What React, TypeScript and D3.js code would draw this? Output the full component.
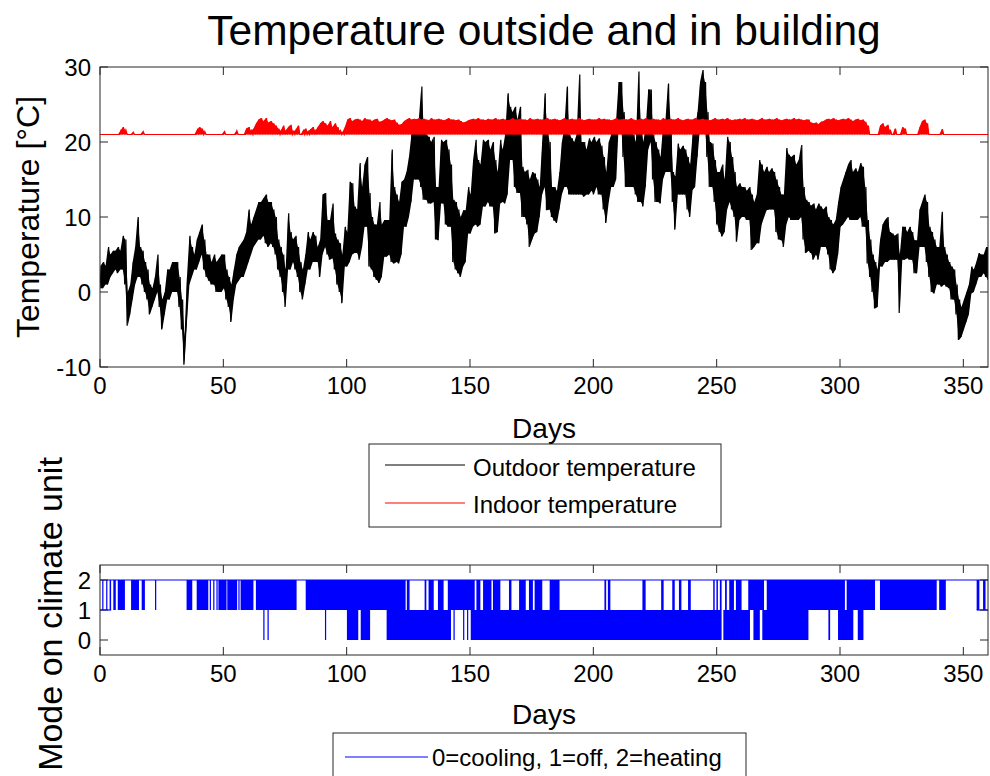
import React from "react";
import * as d3 from "d3";

const xTicks = [0, 50, 100, 150, 200, 250, 300, 350];
const tempTicks = [-10, 0, 10, 20, 30];
const modeTicks = [0, 1, 2];

// daily minimum of outdoor temperature, day 0..360
const outdoorLow = [
  0.5, 0.5, 1, 1, 2, 2.5, 3, 2.5, 3, 3,
  1, -4.5, -3, -1, 1, 2, 2, 1, 0, -1,
  -3, -2, -1, 0, -2, -5, -3, -1, -1, 0,
  0, 0, -2, -5, -9.7, -4, 1, 2, 3, 3,
  4, 5, 3, 2, 1.5, 1, 1, 0, 0, 0,
  0.5, -1, -2, -4, -1, 1, 1.5, 2, 2, 3,
  4, 5, 6, 6.5, 7, 7, 7.5, 6.5, 6, 6.5,
  6, 5, 3, 2, 0, -2, 3, 3, 4, 3,
  2, 0, -1, 1, 3, 3, 4, 4, 4, 2,
  5, 6, 5, 4.3, 4.5, 3, 1, 0, -1.5, 3.4,
  3.4, 4, 5, 5.2, 5.2, 4.3, 6, 8.7, 8.7, 3.4,
  3, 2, 1.6, 1.2, 2, 4.7, 4.7, 5, 4, 3.8,
  4, 3.8, 5, 8.7, 8.7, 10, 12, 15, 15, 15,
  14, 12.3, 12.3, 11.8, 11.8, 12, 7, 6.9, 11.8, 11.8,
  9, 8.7, 8.7, 4, 3, 2.5, 2, 3.4, 4, 7.8,
  7.8, 8.7, 9, 8.7, 9, 11.4, 11.4, 12, 11.4, 11.4,
  7.8, 8, 11.8, 12, 11.8, 13, 17.6, 17.6, 14, 13.2,
  13.2, 10, 10, 9, 6, 7, 7.8, 8, 10, 13,
  14, 10.9, 11, 10, 9.5, 9.2, 11, 13, 14, 14,
  13, 13, 13, 13, 13, 13, 12.7, 13, 13, 13.5,
  13, 14, 13, 13, 11, 9.2, 12, 14, 14, 15,
  22, 22, 18, 14, 14, 14, 14, 13, 12, 12,
  11.4, 14, 19, 20, 15, 12, 12, 11.8, 15, 16,
  16, 16, 12, 8.3, 13, 13, 13, 13, 11, 10,
  13.6, 14, 18, 22, 22, 22, 18, 14, 14, 12,
  9, 8, 7.4, 8, 11, 12, 11, 10, 6.7, 9.6,
  10, 10, 9.6, 9.6, 5.6, 6, 6.5, 6.5, 9, 10,
  10.9, 11, 11, 11, 8, 7, 6.9, 6, 9, 10,
  9.6, 9.6, 9.6, 9.6, 10, 7, 5.2, 5.5, 5.2, 4.3,
  5, 4.3, 6, 6, 6, 5, 3, 2.5, 3, 5,
  8.7, 9, 9.5, 10, 9.6, 9.6, 9.6, 9.6, 10, 8.7,
  8.7, 3.8, 2, 0, -2.2, -2, 3.4, 3.4, 4, 4,
  4.3, 4.3, 4.3, 4.3, -2.8, 4.3, 4.3, 4.5, 4.3, 4.3,
  2.5, 2.5, 6, 6, 6, 4, 2, 0, -0.2, 1,
  1, 0.7, 1, 0.7, 0.5, -1, -1, -3, -6.4, -6,
  -5, -4, -3, -0.2, 0, 1, 2, 2, 2.5, 2, 1.6,
];

// daily maximum of outdoor temperature, day 0..360
const outdoorHigh = [
  3.5, 4, 3.5, 6, 5, 5.5, 5.5, 6, 5.5, 7.5,
  7, 0, 1, 4, 6, 10, 6, 5.5, 4, 3,
  1, 0.5, 2, 5, 1, -1, 0, 3, 3, 4,
  4, 4, 2, -1, -6, 2, 7.5, 6, 5, 7,
  8, 9, 7, 5, 5, 4, 5, 4, 4.5, 5,
  5, 3, 2, 1, 3, 5, 6, 6.5, 7, 8,
  11, 9, 10, 11, 12, 12, 12.5, 13, 12, 12,
  11, 10, 7, 6, 5, 3, 10.5, 8, 7, 7.5,
  6, 4, 3, 5, 8, 7, 8, 7.5, 6, 7,
  13, 13.2, 9.6, 9.6, 11.8, 7.8, 7, 6.5, 5, 8.7,
  8, 14.7, 14.5, 11.4, 11, 17.2, 14, 17, 18, 13.2,
  10, 9, 9, 12, 9, 9.6, 9.6, 9.6, 19, 14,
  13, 12, 14.7, 15, 16, 18, 21, 23, 23, 23,
  27.4, 22, 21, 20.7, 20, 20.7, 14, 14, 20.3, 20,
  20.3, 19, 17, 12.3, 12, 11, 10, 10.9, 10.9, 14,
  13, 17.6, 20.3, 17.6, 17, 20.3, 20, 20.3, 19, 20,
  17.6, 16, 20.3, 19, 21, 26.5, 24.7, 24, 24.7, 23,
  24.7, 16.7, 16, 16.3, 15, 16, 15.8, 15, 14, 20,
  26.5, 22, 20, 14, 14, 13.5, 16, 20, 22, 27.4,
  21, 20.5, 20, 21, 29, 20, 20, 19, 20.5, 20,
  20.7, 20, 20.5, 19.5, 18, 16, 20, 21, 22.9, 23,
  28, 28, 24, 22.5, 22, 22, 21, 20, 29.4, 22.5,
  20, 22, 27, 27, 21, 20, 19, 18, 22, 23,
  27.8, 23, 16, 15.4, 19.8, 19, 19.5, 19, 18, 17,
  21, 22, 24, 28, 29.6, 28, 24, 20, 19.8, 17.6,
  16, 16, 17, 15, 20.7, 20, 18, 16, 14, 14.5,
  14, 14, 13.5, 14, 13, 12, 13, 17.6, 17, 16,
  16.7, 16, 16.5, 16, 15, 14, 13, 13, 19.2, 18.3,
  18, 18.3, 17, 17.6, 19.6, 14, 12.3, 12, 11.5, 11.8,
  11, 11.8, 11.4, 11, 11.4, 10, 9.6, 9, 9.6, 12,
  14, 15, 16, 17, 17.6, 16, 16.5, 16, 17.2, 16.7,
  14, 9.6, 7, 5, 4, 3, 7, 9, 9.6, 10,
  8, 7.8, 7.5, 7.8, 5, 8.7, 8.7, 8, 8.7, 8,
  6.9, 6.9, 11, 12, 13, 12, 8.7, 8, 7, 6,
  6, 10.7, 6, 5, 4, 3.4, 3, 1, -1, -2,
  -1, 0, 1, 3.4, 3, 4, 5.2, 5, 5, 6, 6,
];

// indoor temperature: set point and daily maximum, day 0..360
const indoorBase = 21;
const indoorHigh = [
  21, 21, 21, 21, 21, 21, 21, 21, 21.5, 22,
  21.6, 21, 21, 21.3, 21, 21, 21, 21.4, 21, 21,
  21, 21, 21, 21, 21, 21, 21, 21, 21, 21,
  21, 21, 21, 21, 21, 21, 21, 21, 21, 21.6,
  22, 21.8, 21.4, 21, 21, 21, 21, 21, 21, 21,
  21.4, 21, 21, 21, 21, 21.5, 21, 21, 21, 21.8,
  22, 21.5, 21.8, 22.5, 23, 23.2, 22.8, 23.2, 22.6, 22.8,
  22.5, 22.2, 21.8, 21.5, 22.2, 21.5, 22, 22.3, 21.4, 21.6,
  22.2, 21, 21.5, 21.8, 21.4, 21.7, 22, 21.5, 22, 22.5,
  22.8, 22.5, 22.2, 22.8, 22, 22.5, 22, 21.5, 21.3, 22,
  23, 23.2, 22.8, 23, 23.1, 23, 22.8, 23.2, 23, 23,
  22.8, 23, 23.1, 22.7, 22.8, 23, 23.2, 23, 22.9, 23,
  22.6, 22.3, 22.4, 22.8, 23, 23.2, 23, 23.1, 23, 23.2,
  23, 23.1, 23, 22.9, 23.2, 23, 23, 23.1, 23, 22.9,
  23, 23.2, 23, 23, 22.9, 23, 22.8, 22.6, 22.7, 22.9,
  23, 23.1, 23, 23.2, 23, 23, 22.9, 23.1, 23, 23,
  23.2, 23, 23, 23.1, 23, 22.9, 23, 23.2, 23, 23,
  23.1, 23, 23, 22.9, 23.2, 23, 23, 23.1, 23, 23,
  23, 23.2, 23, 23, 23.1, 23, 22.9, 23, 23.2, 23,
  23, 23.1, 23, 23, 23.2, 23, 22.9, 23, 23.1, 23,
  23, 23, 23.2, 23, 23.1, 23, 23, 22.9, 23, 23.2,
  23, 23, 23.1, 23, 23, 23.2, 23, 22.9, 23, 23.1,
  23, 23.2, 23, 23, 23.1, 23, 23, 22.9, 23.2, 23,
  23, 23.1, 23, 23, 23.2, 23, 22.9, 23, 23.1, 23,
  23, 23.2, 23, 23, 23.1, 23, 23, 22.9, 23, 23.2,
  23, 23, 23.1, 23, 23.2, 23, 22.9, 23, 23, 23.1,
  23, 23.2, 23, 23, 23.1, 23, 22.9, 23, 23.2, 23,
  23, 23.1, 23, 23, 23.2, 23, 22.9, 23, 23.1, 23,
  23, 23.2, 23, 23.1, 23, 22.9, 23, 23, 22.6, 22.5,
  22.6, 22.4, 22.7, 22.8, 23, 23.1, 23, 23.2, 23, 22.9,
  23, 23.1, 23, 23.2, 23, 22.8, 23, 23.1, 22.9, 23,
  22.7, 22.2, 21, 21, 21, 21, 22.2, 22.5, 22, 22.3,
  21.5, 21, 21.8, 21, 21, 22, 21.8, 21, 21, 21,
  21, 21, 22, 22.8, 23, 22.5, 21, 21, 21, 21,
  21, 21.7, 21, 21, 21, 21, 21, 21, 21, 21,
  21, 21, 21, 21, 21, 21, 21, 21, 21, 21, 21,
];

// climate unit mode: [startDay, endDay, lowestMode, highestMode]
const modeSpans: [number, number, number, number][] = [
  [0, 360, 2, 2], [0, 4.5, 1, 1], [355.4, 360, 1, 1],
  [0.9, 1.3, 1, 2], [2.5, 2.9, 1, 2], [3.9, 4.5, 1, 2], [5.4, 6.4, 1, 2],
  [7.2, 10.1, 1, 2], [12.6, 15.8, 1, 2], [16.9, 18.2, 1, 2], [22.3, 22.8, 1, 2],
  [35.1, 37.4, 1, 2], [39.2, 43.9, 1, 2], [44.5, 44.8, 1, 2], [45.9, 46.2, 1, 2],
  [47.2, 47.5, 1, 2], [48.0, 51.3, 1, 2], [51.6, 55.6, 1, 2], [56.1, 56.5, 1, 2],
  [57.0, 62.2, 1, 2], [63.2, 79.7, 1, 2], [83.4, 123.9, 1, 2], [124.4, 125.5, 1, 2],
  [131.6, 132.3, 1, 2], [133.2, 135.3, 1, 2], [137, 139.3, 1, 2], [141, 151.9, 1, 2],
  [152.6, 154.2, 1, 2], [155.3, 158.7, 1, 2], [159.3, 162.3, 1, 2], [165.8, 166.8, 1, 2],
  [169.9, 172.6, 1, 2], [173.9, 175.5, 1, 2], [176.2, 179.3, 1, 2], [182.3, 186.3, 1, 2],
  [204.5, 205.2, 1, 2], [205.9, 206.9, 1, 2], [219.9, 221.2, 1, 2], [227.5, 228.5, 1, 2],
  [232, 233, 1, 2], [234.7, 235.7, 1, 2], [238.4, 239.5, 1, 2], [248.6, 249.2, 1, 2],
  [249.9, 250.5, 1, 2], [251.3, 252, 1, 2], [253.4, 254.1, 1, 2], [255.1, 257, 1, 2],
  [257.8, 260.1, 1, 2], [262.8, 269.2, 1, 2], [270.3, 302, 1, 2], [302.7, 314.2, 1, 2],
  [316.2, 339.2, 1, 2], [340.2, 342.9, 1, 2], [355.4, 356.5, 1, 2], [358, 359, 1, 2],
  [66.2, 66.6, 0, 1], [67.9, 68.4, 0, 1], [91.2, 91.6, 0, 1], [100.1, 104.7, 0, 1],
  [105.7, 109.5, 0, 1], [116.2, 142.3, 0, 1], [143.3, 143.8, 0, 1], [147.2, 147.6, 0, 1],
  [148.8, 149.2, 0, 1], [150.3, 252.0, 0, 1], [252.7, 263.5, 0, 1], [264.9, 267.5, 0, 1],
  [268.5, 287.2, 0, 1], [295.3, 296, 0, 1], [299.2, 305.4, 0, 1], [307.2, 309.5, 0, 1],
];

const FONT = "'Liberation Sans', Arial, Helvetica, sans-serif";
const AX = "#262626";
const TICK = 8;

type Frame = { left: number; right: number; top: number; bottom: number };

function Box({ f, x, y, yTicks }: { f: Frame; x: d3.ScaleLinear<number, number>; y: d3.ScaleLinear<number, number>; yTicks: number[] }) {
  return (
    <g stroke={AX} strokeWidth={1} fill="none">
      <rect x={f.left} y={f.top} width={f.right - f.left} height={f.bottom - f.top} />
      {xTicks.map((t) => (
        <g key={"x" + t}>
          <line x1={x(t)} x2={x(t)} y1={f.bottom} y2={f.bottom - TICK} />
          <line x1={x(t)} x2={x(t)} y1={f.top} y2={f.top + TICK} />
        </g>
      ))}
      {yTicks.map((t) => (
        <g key={"y" + t}>
          <line x1={f.left} x2={f.left + TICK} y1={y(t)} y2={y(t)} />
          <line x1={f.right} x2={f.right - TICK} y1={y(t)} y2={y(t)} />
        </g>
      ))}
    </g>
  );
}

export default function App() {
  const top: Frame = { left: 100, right: 988, top: 67, bottom: 367 };
  const bot: Frame = { left: 100, right: 988, top: 565, bottom: 655 };
  const x = d3.scaleLinear().domain([0, 360]).range([top.left, top.right]);
  const yT = d3.scaleLinear().domain([-10, 30]).range([top.bottom, top.top]);
  const yM = d3.scaleLinear().domain([-0.5, 2.5]).range([bot.bottom, bot.top]);

  const days = outdoorLow.map((_, d) => d);

  const outdoorPts: [number, number][] = outdoorLow.flatMap((lo, d) => [
    [d, lo] as [number, number],
    [d + 0.5, outdoorHigh[d]] as [number, number],
  ]);
  const indoorPts: [number, number][] = indoorHigh.flatMap((hi, d) => [
    [d, indoorBase] as [number, number],
    [d + 0.5, hi] as [number, number],
  ]);
  const line = d3
    .line<[number, number]>()
    .x((p) => x(p[0]))
    .y((p) => yT(p[1]));

  const outdoorBand = d3
    .area<number>()
    .x((d) => x(d + 0.25))
    .y0((d) => yT(outdoorLow[d]))
    .y1((d) => yT(outdoorHigh[d]));
  const indoorBand = d3
    .area<number>()
    .x((d) => x(d + 0.25))
    .y0(() => yT(indoorBase))
    .y1((d) => yT(indoorHigh[d]));

  const midX = (top.left + top.right) / 2;
  const txt = { fontFamily: FONT, fill: "#000" } as const;

  return (
    <svg width={990} height={776} style={{ position: "absolute", left: 0, top: 0, background: "#fff" }}>
      <rect x={0} y={0} width={990} height={776} fill="#fff" />
      <defs>
        <clipPath id="clipTop">
          <rect x={top.left} y={top.top} width={top.right - top.left} height={top.bottom - top.top} />
        </clipPath>
        <clipPath id="clipBot">
          <rect x={bot.left} y={bot.top} width={bot.right - bot.left} height={bot.bottom - bot.top} />
        </clipPath>
      </defs>

      <text x={midX} y={45} fontSize={42.5} textAnchor="middle" {...txt}>
        Temperature outside and in building
      </text>

      {/* top chart */}
      <g clipPath="url(#clipTop)">
        <path d={outdoorBand(days) || ""} fill="#000" stroke="none" />
        <path d={line(outdoorPts) || ""} fill="none" stroke="#000" strokeWidth={1.2} />
        <path d={indoorBand(days) || ""} fill="#ff0000" stroke="none" />
        <path d={line(indoorPts) || ""} fill="none" stroke="#ff0000" strokeWidth={1.2} />
      </g>
      <Box f={top} x={x} y={yT} yTicks={tempTicks} />
      {xTicks.map((t) => (
        <text key={"tx" + t} x={x(t)} y={394} fontSize={24} textAnchor="middle" {...txt}>
          {t}
        </text>
      ))}
      {tempTicks.map((t) => (
        <text key={"ty" + t} x={91} y={yT(t) + 9} fontSize={24} textAnchor="end" {...txt}>
          {t}
        </text>
      ))}
      <text x={midX} y={438} fontSize={28} textAnchor="middle" {...txt}>
        Days
      </text>
      <text transform={`translate(39, ${(top.top + top.bottom) / 2}) rotate(-90)`} fontSize={32} textAnchor="middle" {...txt}>
        Temperature [°C]
      </text>

      {/* legend top */}
      <g>
        <rect x={369} y={444} width={352} height={83} fill="#fff" stroke={AX} strokeWidth={1} />
        <line x1={385} x2={465} y1={465} y2={465} stroke="#000" strokeWidth={1.2} />
        <text x={473} y={476} fontSize={24} {...txt}>Outdoor temperature</text>
        <line x1={385} x2={465} y1={503} y2={503} stroke="#ff0000" strokeWidth={1.2} />
        <text x={473} y={513} fontSize={24} {...txt}>Indoor temperature</text>
      </g>

      {/* mode chart */}
      <g clipPath="url(#clipBot)">
        {modeSpans.map(([s, e, lo, hi], i) =>
          lo === hi ? (
            <line key={i} x1={x(s)} x2={x(e)} y1={yM(lo)} y2={yM(lo)} stroke="#0000ff" strokeWidth={1.2} />
          ) : (
            <rect
              key={i}
              x={x(s)}
              y={yM(hi)}
              width={Math.max(1.2, x(e) - x(s))}
              height={yM(lo) - yM(hi)}
              fill="#0000ff"
            />
          )
        )}
      </g>
      <Box f={bot} x={x} y={yM} yTicks={modeTicks} />
      {xTicks.map((t) => (
        <text key={"bx" + t} x={x(t)} y={682} fontSize={24} textAnchor="middle" {...txt}>
          {t}
        </text>
      ))}
      {modeTicks.map((t) => (
        <text key={"by" + t} x={91} y={yM(t) + 9} fontSize={24} textAnchor="end" {...txt}>
          {t}
        </text>
      ))}
      <text x={midX} y={724} fontSize={28} textAnchor="middle" {...txt}>
        Days
      </text>
      <text transform={`translate(62, 614) rotate(-90)`} fontSize={34} textAnchor="middle" {...txt}>
        Mode on climate unit
      </text>

      {/* legend bottom */}
      <g>
        <rect x={333} y={733} width={413} height={70} fill="#fff" stroke={AX} strokeWidth={1} />
        <line x1={345} x2={428} y1={757} y2={757} stroke="#0000ff" strokeWidth={1.2} />
        <text x={432} y={766} fontSize={24} {...txt}>0=cooling, 1=off, 2=heating</text>
      </g>
    </svg>
  );
}
